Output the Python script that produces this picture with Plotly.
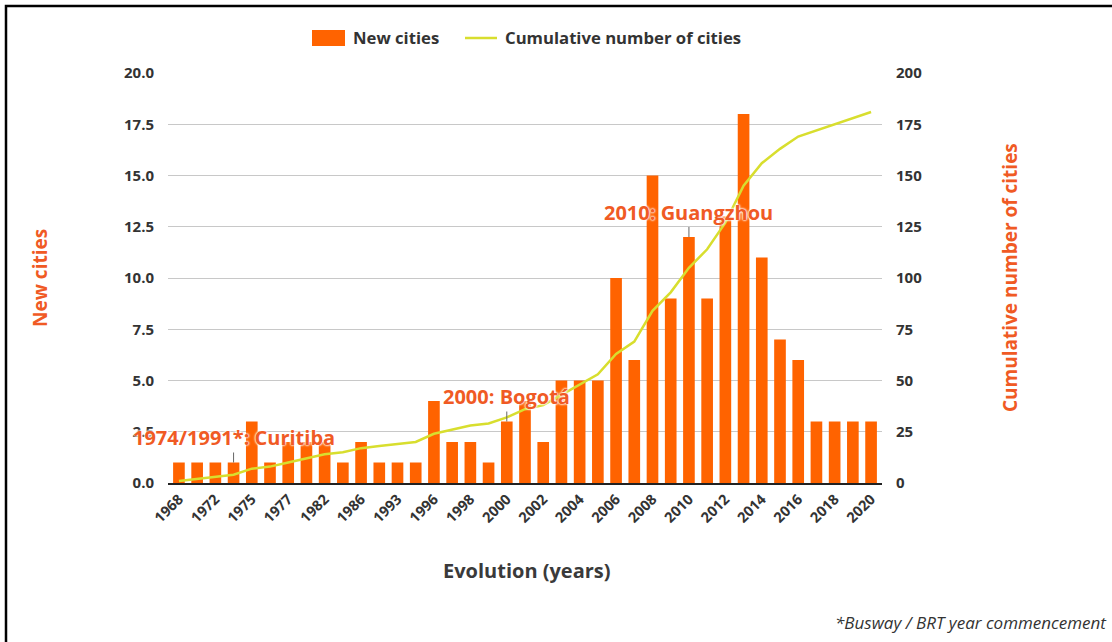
import plotly.graph_objects as go

years = ["1968", "1970", "1972", "1974", "1975", "1976", "1977", "1980", "1982", "1984",
         "1986", "1990", "1993", "1995", "1996", "1997", "1998", "1999", "2000", "2001",
         "2002", "2003", "2004", "2005", "2006", "2007", "2008", "2009", "2010", "2011",
         "2012", "2013", "2014", "2015", "2016", "2017", "2018", "2019", "2020"]
new_cities = [1, 1, 1, 1, 3, 1, 2, 2, 2, 1,
              2, 1, 1, 1, 4, 2, 2, 1, 3, 4,
              2, 5, 5, 5, 10, 6, 15, 9, 12, 9,
              13, 18, 11, 7, 6, 3, 3, 3, 3]
cumulative = [1, 2, 3, 4, 7, 8, 10, 12, 14, 15,
              17, 18, 19, 20, 24, 26, 28, 29, 32, 36,
              38, 43, 48, 53, 63, 69, 84, 93, 105, 114,
              127, 145, 156, 163, 169, 172, 175, 178, 181]
tick_labels = years[::2]

milestones = [("1974", 1, "1974/1991*: Curitiba"),
              ("2000", 3, "2000: Bogotá"),
              ("2010", 12, "2010: Guangzhou")]

series_names = ["New cities", "Cumulative number of cities"]

ORANGE = "#FF6300"
TXT_OR = "#F05A24"
LINE = "#D8DE2E"
DARK = "#333333"
FONT = "Open Sans"

fig = go.Figure()
fig.add_trace(go.Bar(x=years, y=new_cities, name=series_names[0],
                     marker=dict(color=ORANGE, line=dict(width=0))))
fig.add_trace(go.Scatter(x=years, y=cumulative, name=series_names[1],
                         mode="lines", line=dict(color=LINE, width=2.5), yaxis="y2"))

W, H = 1112, 642
L, R, T, B = 168, 230, 73, 159
pw, ph = W - L - R, H - T - B
def px(x):
    return (x - L) / pw
def py(y):
    return (H - B - y) / ph

annotations = []
for yr, val, label in milestones:
    annotations.append(dict(x=years.index(yr), y=val, xref="x", yref="y", text=label,
                            showarrow=True, arrowhead=0, arrowwidth=1, arrowcolor="#666666",
                            ax=0, ay=-25,
                            font=dict(family=FONT, size=20, color=TXT_OR, weight="bold",
                                      shadow="0 0 2px white, 0 0 2px white, 0 0 3px white")))

annotations += [
    dict(x=px(40), y=py(278), xref="paper", yref="paper", text="New cities", textangle=-90,
         xanchor="center", yanchor="middle", showarrow=False,
         font=dict(family=FONT, size=19, color=TXT_OR, weight="bold")),
    dict(x=px(1010), y=py(278), xref="paper", yref="paper", text="Cumulative number of cities",
         textangle=-90, xanchor="center", yanchor="middle", showarrow=False,
         font=dict(family=FONT, size=19, color=TXT_OR, weight="bold")),
    dict(x=px(527), y=py(570), xref="paper", yref="paper", text="Evolution (years)",
         xanchor="center", yanchor="middle", showarrow=False,
         font=dict(family=FONT, size=20, color="#3a3a3a", weight="bold")),
    dict(x=px(1109), y=py(622), xref="paper", yref="paper", xanchor="right", yanchor="middle",
         text="<i>*Busway / BRT year commencement</i>", showarrow=False,
         font=dict(family=FONT, size=17, color=DARK)),
    # legend texts
    dict(x=px(351), y=py(38), xref="paper", yref="paper", xanchor="left", yanchor="middle",
         text=series_names[0], showarrow=False,
         font=dict(family=FONT, size=16.7, color=DARK, weight="bold")),
    dict(x=px(503), y=py(38), xref="paper", yref="paper", xanchor="left", yanchor="middle",
         text=series_names[1], showarrow=False,
         font=dict(family=FONT, size=16.7, color=DARK, weight="bold")),
]

shapes = [
    dict(type="rect", xref="paper", yref="paper", x0=px(6), y0=py(700), x1=px(1200),
         y1=py(6), line=dict(color="black", width=2.5), fillcolor="rgba(0,0,0,0)",
         layer="above"),
    # legend symbols
    dict(type="rect", xref="paper", yref="paper", x0=px(312), x1=px(345), y0=py(46), y1=py(30),
         line=dict(width=0), fillcolor=ORANGE),
    dict(type="line", xref="paper", yref="paper", x0=px(465), x1=px(497), y0=py(38), y1=py(38),
         line=dict(color=LINE, width=2.5)),
]

fig.update_layout(
    width=W, height=H,
    margin=dict(l=L, r=R, t=T, b=B, pad=0),
    paper_bgcolor="white", plot_bgcolor="white",
    font=dict(family=FONT, color=DARK),
    bargap=0.36,
    showlegend=False,
    xaxis=dict(type="category", tickmode="array", tickvals=tick_labels, ticktext=tick_labels,
               tickangle=-45, showgrid=False, showline=True, linecolor="#222222", linewidth=2,
               tickfont=dict(family=FONT, size=14.5, color=DARK, weight="bold"),
               ticks="", range=[-0.6, len(years) - 0.4]),
    yaxis=dict(range=[0, 20], dtick=2.5, tickformat=".1f", showgrid=True, gridcolor="#c8c8c8",
               gridwidth=1, zeroline=False, showline=False, ticks="outside", ticklen=10,
               tickcolor="rgba(0,0,0,0)",
               tickfont=dict(family=FONT, size=15, color=DARK, weight="bold")),
    yaxis2=dict(range=[0, 200], dtick=25, overlaying="y", side="right", showgrid=False,
                zeroline=False, showline=False, ticks="outside", ticklen=10,
                tickcolor="rgba(0,0,0,0)",
                tickfont=dict(family=FONT, size=15, color=DARK, weight="bold")),
    annotations=annotations,
    shapes=shapes,
)

fig.write_html("out.html", config={"displayModeBar": False},
               post_script="document.body.style.margin='0';")
